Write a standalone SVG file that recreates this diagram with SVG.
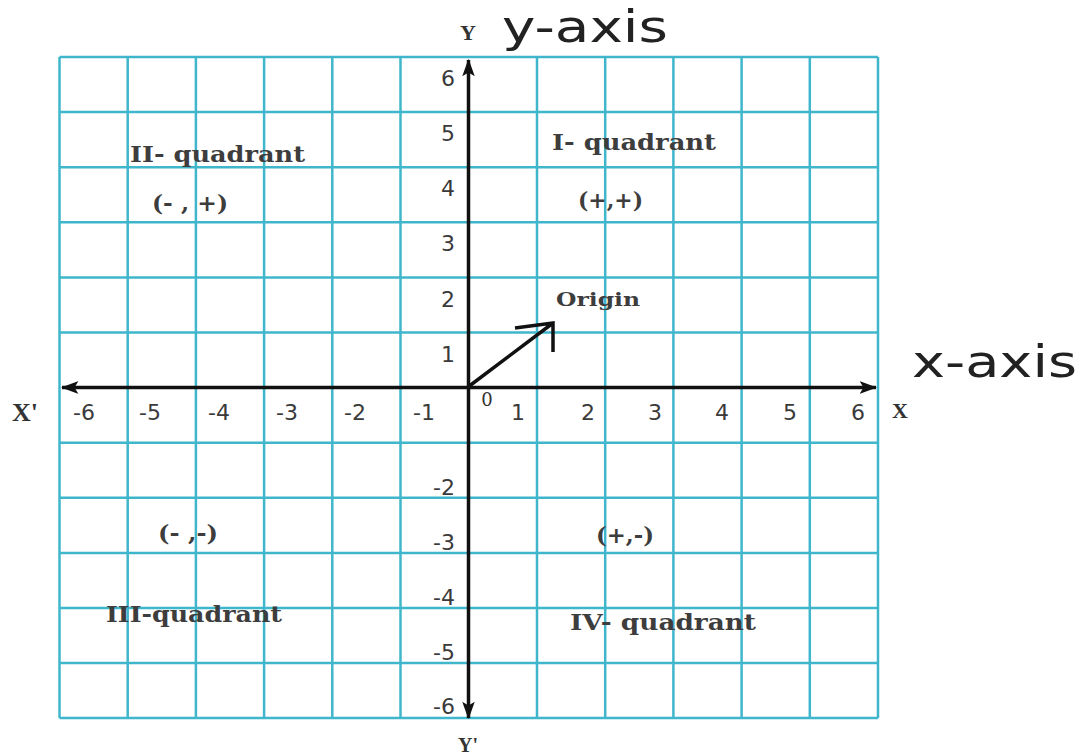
<svg xmlns="http://www.w3.org/2000/svg" width="1082" height="756" viewBox="0 0 1082 756">
<style>
.grid line{stroke:#3fb6cb;stroke-width:2.5}
.axis{stroke:#111;stroke-width:3.5;fill:none}
.tick{font-family:"DejaVu Sans",sans-serif;font-size:22px;fill:#3a3a3a}
.big{font-family:"DejaVu Sans",sans-serif;font-size:45px;fill:#222}
.lbl{font-family:"DejaVu Serif",serif;font-weight:bold;font-size:22px;fill:#3d3d3d}
.ax{font-family:"Liberation Serif",serif;font-weight:bold;font-size:24px;fill:#333}
</style>
<defs>
<marker id="ah" viewBox="0 0 14 10" refX="13" refY="5" markerWidth="5" markerHeight="4" orient="auto" markerUnits="strokeWidth">
<path d="M0,0 L14,5 L0,10 L3,5 z" fill="#111"/>
</marker>
</defs>
<rect width="1082" height="756" fill="#fff"/>
<g class="grid" id="grid">
<line x1="59.5" y1="57" x2="59.5" y2="718"/>
<line x1="127.7" y1="57" x2="127.7" y2="718"/>
<line x1="195.9" y1="57" x2="195.9" y2="718"/>
<line x1="264.1" y1="57" x2="264.1" y2="718"/>
<line x1="332.3" y1="57" x2="332.3" y2="718"/>
<line x1="400.5" y1="57" x2="400.5" y2="718"/>
<line x1="537" y1="57" x2="537" y2="718"/>
<line x1="605.2" y1="57" x2="605.2" y2="718"/>
<line x1="673.4" y1="57" x2="673.4" y2="718"/>
<line x1="741.6" y1="57" x2="741.6" y2="718"/>
<line x1="809.8" y1="57" x2="809.8" y2="718"/>
<line x1="878" y1="57" x2="878" y2="718"/>
<line x1="59.5" y1="57" x2="878" y2="57"/>
<line x1="59.5" y1="112.1" x2="878" y2="112.1"/>
<line x1="59.5" y1="167.2" x2="878" y2="167.2"/>
<line x1="59.5" y1="222.3" x2="878" y2="222.3"/>
<line x1="59.5" y1="277.4" x2="878" y2="277.4"/>
<line x1="59.5" y1="332.5" x2="878" y2="332.5"/>
<line x1="59.5" y1="442.7" x2="878" y2="442.7"/>
<line x1="59.5" y1="497.8" x2="878" y2="497.8"/>
<line x1="59.5" y1="552.9" x2="878" y2="552.9"/>
<line x1="59.5" y1="608" x2="878" y2="608"/>
<line x1="59.5" y1="663.1" x2="878" y2="663.1"/>
<line x1="59.5" y1="718" x2="878" y2="718"/>
</g>
<g id="connectors">
<line class="axis" x1="468.5" y1="387.5" x2="468.5" y2="60" marker-end="url(#ah)"/>
<line class="axis" x1="468.5" y1="387.5" x2="468.5" y2="718" marker-end="url(#ah)"/>
<line class="axis" x1="468.5" y1="387.5" x2="876" y2="387.5" marker-end="url(#ah)"/>
<line class="axis" x1="468.5" y1="387.5" x2="62" y2="387.5" marker-end="url(#ah)"/>
<path class="axis" d="M468,387 L553,323 M515,328 L553,323 L553,352" stroke-width="3.8"/>
</g>
<g id="y-ticks" class="tick" text-anchor="end">
<text x="455" y="86">6</text>
<text x="455" y="141">5</text>
<text x="455" y="196">4</text>
<text x="455" y="251">3</text>
<text x="455" y="307">2</text>
<text x="455" y="362">1</text>
<text x="455" y="495">-2</text>
<text x="455" y="550">-3</text>
<text x="455" y="605">-4</text>
<text x="455" y="660">-5</text>
<text x="455" y="714">-6</text>
</g>
<g id="x-ticks" class="tick" text-anchor="middle">
<text x="84" y="420">-6</text>
<text x="150" y="420">-5</text>
<text x="219" y="420">-4</text>
<text x="287" y="420">-3</text>
<text x="355" y="420">-2</text>
<text x="424" y="420">-1</text>
<text x="518" y="420">1</text>
<text x="588" y="420">2</text>
<text x="655" y="420">3</text>
<text x="722" y="420">4</text>
<text x="790" y="420">5</text>
<text x="858" y="420">6</text>
</g>
<g id="origin-zero"><text x="487" y="406" text-anchor="middle" style="font-family:'DejaVu Serif',serif;font-size:18px;fill:#333">0</text></g>
<g id="axis-names">
<text class="ax" x="468" y="40" text-anchor="middle" style="font-size:22px">Y</text>
<text class="big" x="502" y="42" textLength="166" lengthAdjust="spacingAndGlyphs">y-axis</text>
<text class="big" x="912" y="377" textLength="165" lengthAdjust="spacingAndGlyphs">x-axis</text>
<text class="ax" x="12" y="421" style="font-size:26px">X'</text>
<text class="ax" x="892" y="418" style="font-size:22px">X</text>
<text class="ax" x="468" y="752" text-anchor="middle" style="font-size:20px">Y'</text>
</g>
<g id="q2"><text class="lbl" x="130" y="162" textLength="175" lengthAdjust="spacingAndGlyphs">II- quadrant</text><text class="lbl" x="152" y="211" textLength="76" lengthAdjust="spacingAndGlyphs">(- , +)</text></g>
<g id="q1"><text class="lbl" x="552" y="150" textLength="164" lengthAdjust="spacingAndGlyphs">I- quadrant</text><text class="lbl" x="578" y="208" textLength="65" lengthAdjust="spacingAndGlyphs">(+,+)</text></g>
<g id="origin"><text class="lbl" x="556" y="306" textLength="84" lengthAdjust="spacingAndGlyphs" style="font-size:18px">Origin</text></g>
<g id="q3"><text class="lbl" x="158" y="541" textLength="60" lengthAdjust="spacingAndGlyphs">(- ,-)</text><text class="lbl" x="106" y="622" textLength="176" lengthAdjust="spacingAndGlyphs">III-quadrant</text></g>
<g id="q4"><text class="lbl" x="596" y="543" textLength="58" lengthAdjust="spacingAndGlyphs">(+,-)</text><text class="lbl" x="570" y="630" textLength="186" lengthAdjust="spacingAndGlyphs">IV- quadrant</text></g>
</svg>
